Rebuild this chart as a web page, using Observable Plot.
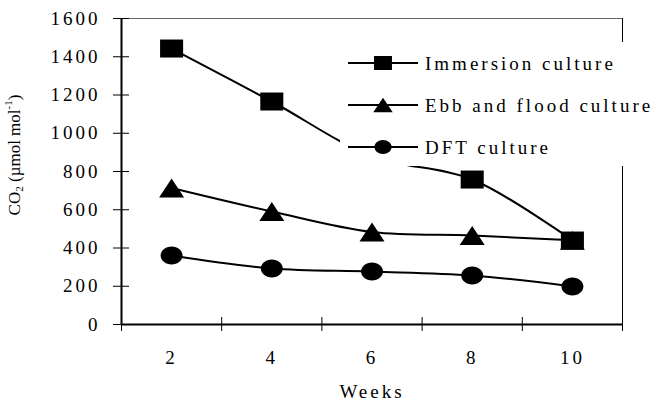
<!DOCTYPE html>
<html><head><meta charset="utf-8">
<script src="https://cdn.jsdelivr.net/npm/d3@7"></script>
<script src="https://cdn.jsdelivr.net/npm/@observablehq/plot@0.6"></script>
<style>
html,body{margin:0;padding:0;background:#fff;}
#chart{position:relative;width:661px;height:405px;}
#chart svg text{letter-spacing:3px;}
#chart svg text.ylab{letter-spacing:0;}
</style></head><body><div id="chart"></div>
<script>
// ---- data ----
const weeks = [2, 4, 6, 8, 10];
const immersion = [1443, 1166, 880, 758, 439];
const ebbFlood = [714, 591, 484, 465, 440];
const dft = [361, 293, 277, 256, 199];
const seriesNames = ["Immersion culture", "Ebb and flood culture", "DFT culture"];
const yTicks = [0, 200, 400, 600, 800, 1000, 1200, 1400, 1600];
const xLabelTicks = [2, 4, 6, 8, 10];
const xMinorTicks = [1, 3, 5, 7, 9, 11];
const xDomain = [1, 11];
const yDomain = [0, 1600];
const xTitle = "Weeks";

// ---- symbols (stretched like the original) ----
const rectSym = {draw(ctx, size){const r=Math.sqrt(size/Math.PI),w=r*1.28,h=r;ctx.moveTo(-w,-h);ctx.lineTo(w,-h);ctx.lineTo(w,h);ctx.lineTo(-w,h);ctx.closePath();}};
const triSym = {draw(ctx, size){const r=Math.sqrt(size/Math.PI),w=r*1.39,h=r*1.05;ctx.moveTo(0,-h);ctx.lineTo(w,h);ctx.lineTo(-w,h);ctx.closePath();}};
const ellSym = {draw(ctx, size){const r=Math.sqrt(size/Math.PI),rx=r*1.22,ry=r,k=0.5523;
  ctx.moveTo(rx,0);ctx.bezierCurveTo(rx,ry*k,rx*k,ry,0,ry);ctx.bezierCurveTo(-rx*k,ry,-rx,ry*k,-rx,0);
  ctx.bezierCurveTo(-rx,-ry*k,-rx*k,-ry,0,-ry);ctx.bezierCurveTo(rx*k,-ry,rx,-ry*k,rx,0);ctx.closePath();}};
const seriesSymbols = [rectSym, triSym, ellSym];
const seriesValues = [immersion, ebbFlood, dft];

const rows = [];
seriesNames.forEach((s, si) => weeks.forEach((w, i) => rows.push({series: s, week: w, value: seriesValues[si][i]})));

const plot = Plot.plot({
  width: 661, height: 405,
  marginLeft: 121, marginRight: 39, marginTop: 18, marginBottom: 81,
  x: {domain: xDomain},
  y: {domain: yDomain},
  style: {fontFamily: "'Liberation Serif', 'Times New Roman', serif", fontSize: "19px", color: "black", background: "white"},
  marks: [
    Plot.ruleY([yDomain[1]], {stroke: "#666", strokeWidth: 1}),
    Plot.ruleX([xDomain[1]], {stroke: "black", strokeWidth: 1}),
    Plot.axisY({ticks: yTicks, tickSize: 16, dx: 8, tickFormat: () => "", label: null}),
    Plot.axisY({ticks: yTicks, tickSize: 0, tickPadding: 21, tickFormat: d => String(d), label: null}),
    Plot.axisX({ticks: xMinorTicks, tickSize: 14, dy: -7, tickFormat: () => "", label: null}),
    Plot.axisX({ticks: xLabelTicks, tickSize: 0, tickPadding: 26, tickFormat: d => String(d),
      label: xTitle, labelAnchor: "center", labelArrow: "none", labelOffset: 73}),
    Plot.line(rows, {x: "week", y: "value", z: "series", curve: "catmull-rom", stroke: "black", strokeWidth: 2}),
    ...seriesNames.map((s, si) => Plot.dot(rows.filter(d => d.series === s),
      {x: "week", y: "value", r: 9, symbol: seriesSymbols[si], fill: "black", stroke: "none"})),
    Plot.ruleX([xDomain[0]], {stroke: "black", strokeWidth: 2}),
    Plot.ruleY([yDomain[0]], {stroke: "black", strokeWidth: 2})
  ]
});
document.getElementById("chart").appendChild(plot);

const svg = d3.select(plot);
// y-axis title
const yl = svg.append("text").attr("class", "ylab")
  .attr("transform", "translate(16,155) rotate(-90)")
  .attr("text-anchor", "middle").attr("dominant-baseline", "middle")
  .attr("font-size", 17).attr("fill", "black");
yl.append("tspan").text("CO");
yl.append("tspan").attr("font-size", 11).attr("dy", 4).text("2");
yl.append("tspan").attr("dy", -4).text(" (µmol mol");
yl.append("tspan").attr("font-size", 11).attr("dy", -7).text("-1");
yl.append("tspan").attr("dy", 7).text(")");

// legend
const lg = svg.append("g");
lg.append("rect").attr("x", 340).attr("y", 42).attr("width", 316).attr("height", 124)
  .style("fill", "white").style("stroke", "none");
seriesNames.forEach((s, i) => {
  const cy = 63 + i * 42;
  lg.append("line").attr("x1", 348).attr("x2", 418).attr("y1", cy).attr("y2", cy).attr("stroke", "black").attr("stroke-width", 2);
  lg.append("path").attr("transform", `translate(383,${cy})`).attr("d", d3.symbol(seriesSymbols[i], Math.PI * 49)()).attr("fill", "black");
  lg.append("text").attr("x", 425).attr("y", cy).attr("text-anchor", "start").attr("dominant-baseline", "central").attr("fill", "black").text(s);
});
</script></body></html>
